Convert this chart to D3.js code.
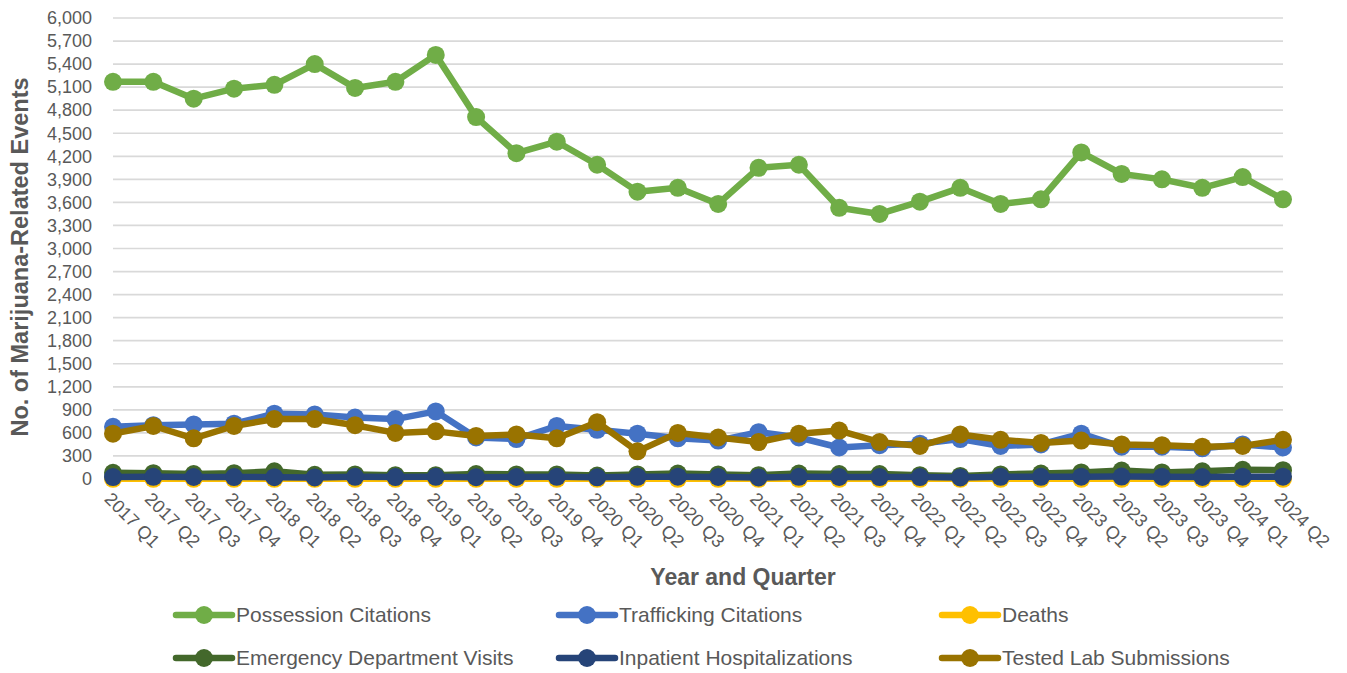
<!DOCTYPE html>
<html>
<head>
<meta charset="utf-8">
<script src="https://cdn.jsdelivr.net/npm/d3@7"></script>
<style>
  body { margin: 0; background: #fff; }
  svg text { font-family: "Liberation Sans", Arial, sans-serif; fill: #595959; }
</style>
</head>
<body>
<svg id="chart" width="1347" height="673"></svg>
<script>
// quarters on the x axis
var quarters = [];
[2017, 2018, 2019, 2020, 2021, 2022, 2023, 2024].forEach(function (yr) {
    [1, 2, 3, 4].forEach(function (q) {
        if (yr === 2024 && q > 2) return;
        quarters.push(yr + " Q" + q);
    });
});

var yTicks = d3.range(0, 6001, 300);

var possession = [5170, 5170, 4950, 5080, 5130, 5400, 5090, 5170, 5520, 4710,
    4240, 4390, 4090, 3740, 3790, 3580, 4050, 4090, 3530, 3450,
    3610, 3790, 3580, 3640, 4250, 3970, 3900, 3790, 3930, 3640];
var trafficking = [680, 700, 710, 720, 850, 840, 800, 780, 880, 540,
    520, 690, 640, 590, 530, 500, 610, 540, 410, 440,
    460, 520, 430, 450, 590, 420, 420, 400, 450, 410];
var deaths = [3, 3, 2, 2, 3, 2, 3, 2, 2, 3,
    3, 3, 2, 3, 3, 2, 2, 3, 3, 2,
    3, 3, 3, 2, 3, 3, 3, 2, 2, 2];
var edVisits = [80, 75, 65, 75, 100, 55, 60, 50, 50, 65,
    60, 60, 45, 60, 70, 60, 50, 70, 65, 65,
    50, 40, 60, 70, 85, 110, 85, 100, 120, 115];
var inpatient = [25, 28, 26, 25, 24, 20, 28, 25, 28, 24,
    26, 28, 22, 28, 30, 26, 20, 28, 26, 25,
    25, 20, 28, 28, 30, 32, 30, 26, 30, 30];
var labSubmissions = [590, 690, 530, 690, 780, 780, 700, 600, 620, 560,
    580, 530, 740, 360, 600, 540, 480, 590, 630, 480,
    430, 580, 510, 470, 500, 450, 440, 420, 430, 510];

var series = [
    {name: "Possession Citations", color: "#70AD47", values: possession},
    {name: "Trafficking Citations", color: "#4472C4", values: trafficking},
    {name: "Deaths", color: "#FFC000", values: deaths},
    {name: "Emergency Department Visits", color: "#43682B", values: edVisits},
    {name: "Inpatient Hospitalizations", color: "#264478", values: inpatient},
    {name: "Tested Lab Submissions", color: "#997300", values: labSubmissions}
];

var svg = d3.select("#chart"),
    plotLeft = 113, plotRight = 1283, plotTop = 18, plotBottom = 479;

var x = d3.scalePoint().domain(quarters).range([plotLeft, plotRight]).padding(0);
var y = d3.scaleLinear().domain([0, 6000]).range([plotBottom, plotTop]);

// gridlines
svg.append("g")
    .selectAll("line")
    .data(yTicks)
    .join("line")
    .attr("x1", plotLeft).attr("x2", plotRight)
    .attr("y1", function (d) { return y(d); })
    .attr("y2", function (d) { return y(d); })
    .attr("stroke", "#D9D9D9")
    .attr("stroke-width", 1.7);

// y axis labels
var yAxis = svg.append("g")
    .attr("transform", "translate(" + (plotLeft - 21) + ",0)")
    .call(d3.axisLeft(y).tickValues(yTicks).tickSize(0).tickFormat(d3.format(",")));
yAxis.select(".domain").remove();
yAxis.selectAll("text")
    .attr("x", 0)
    .style("font-size", "18px")
    .attr("fill", "#595959");

// x axis labels
var xAxis = svg.append("g")
    .attr("transform", "translate(0," + plotBottom + ")")
    .call(d3.axisBottom(x).tickSize(0));
xAxis.select(".domain").remove();
xAxis.selectAll("text")
    .attr("text-anchor", "start")
    .attr("dy", 0)
    .attr("transform", "translate(-1,12) rotate(45)")
    .attr("y", 0)
    .attr("x", 0)
    .attr("dominant-baseline", "hanging")
    .style("font-size", "18px")
    .attr("fill", "#595959");

// titles
svg.append("text")
    .attr("transform", "translate(28,257) rotate(-90)")
    .attr("text-anchor", "middle")
    .style("font-weight", "bold")
    .style("font-size", "23.5px")
    .text("No. of Marijuana-Related Events");

svg.append("text")
    .attr("x", 743).attr("y", 585)
    .attr("text-anchor", "middle")
    .style("font-weight", "bold")
    .style("font-size", "23px")
    .text("Year and Quarter");

// lines and markers
var line = d3.line()
    .x(function (d, i) { return x(quarters[i]); })
    .y(function (d) { return y(d); });

series.forEach(function (s) {
    var g = svg.append("g");
    g.append("path")
        .datum(s.values)
        .attr("fill", "none")
        .attr("stroke", s.color)
        .attr("stroke-width", 6.5)
        .attr("stroke-linejoin", "round")
        .attr("d", line);
    g.selectAll("circle")
        .data(s.values)
        .join("circle")
        .attr("cx", function (d, i) { return x(quarters[i]); })
        .attr("cy", function (d) { return y(d); })
        .attr("r", 9)
        .attr("fill", s.color);
});

// legend (x = where the label text starts)
var legendCols = [236, 619, 1002],
    legendRows = [615, 658];
var legend = svg.append("g")
    .selectAll("g")
    .data(series)
    .join("g")
    .attr("transform", function (d, i) {
        return "translate(" + legendCols[i % 3] + "," + legendRows[Math.floor(i / 3)] + ")";
    });
legend.append("line")
    .attr("x1", -60).attr("x2", -4)
    .attr("stroke", function (d) { return d.color; })
    .attr("stroke-width", 6.5)
    .attr("stroke-linecap", "round");
legend.append("circle")
    .attr("cx", -32).attr("r", 9)
    .attr("fill", function (d) { return d.color; });
legend.append("text")
    .attr("x", 0)
    .attr("dy", "0.35em")
    .style("font-size", "21px")
    .text(function (d) { return d.name; });
</script>
</body>
</html>
